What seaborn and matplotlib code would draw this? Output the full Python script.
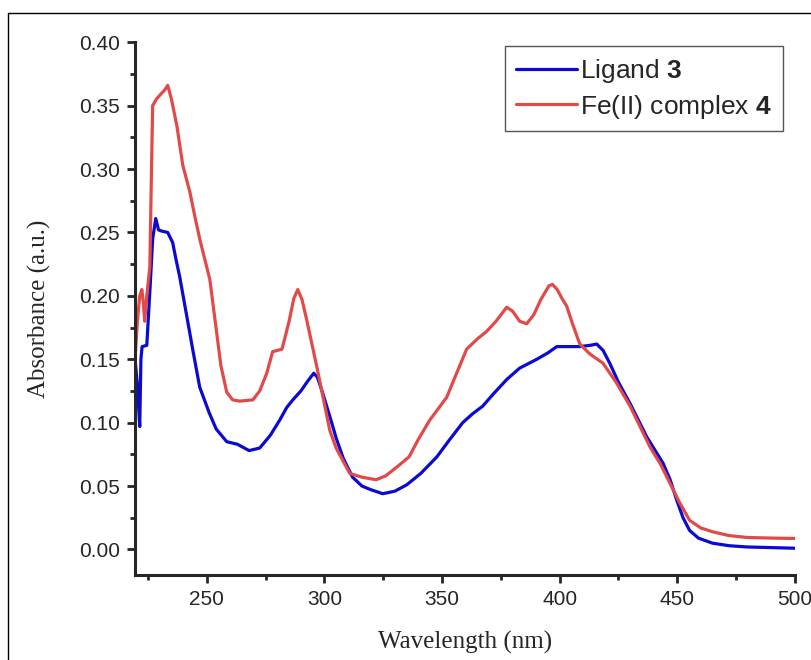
import numpy  as np
import pandas as pd

import matplotlib
matplotlib.use("Agg")
import matplotlib.pyplot as plt
import seaborn           as sns
from matplotlib.lines  import Line2D
from matplotlib.ticker import MultipleLocator

# ================================================================================
# Data
# ================================================================================
ligand_nm = [219.5, 220.5, 221.5, 222.0, 222.5, 224.5, 226.0, 227.0, 228.3, 229.5,
             231.0, 233.4, 235.5, 237.0, 238.5, 241.5, 244.0, 247.0, 251.0, 254.0,
             258.5, 263.0, 268.0, 272.5, 277.0, 281.0, 284.0, 286.6, 290.0, 293.0,
             295.5, 297.0, 299.0, 302.3, 305.0, 308.0, 312.0, 316.0, 320.0, 324.8,
             330.0, 335.0, 341.0, 347.8, 353.0, 358.8, 363.0, 367.3, 372.0, 377.5,
             383.0, 390.3, 395.0, 398.8, 403.0, 408.6, 413.0, 415.8, 418.5, 421.3,
             425.0, 430.0, 437.0, 444.0, 447.0, 449.8, 452.5, 455.3, 459.0, 465.0,
             472.0, 479.6, 490.0, 500.0]
ligand_abs = [0.150, 0.130, 0.097, 0.150, 0.160, 0.161, 0.210, 0.245, 0.261, 0.252,
              0.251, 0.250, 0.242, 0.228, 0.215, 0.184, 0.158, 0.128, 0.108, 0.095,
              0.085, 0.083, 0.078, 0.080, 0.090, 0.102, 0.112, 0.118, 0.125, 0.133,
              0.139, 0.136, 0.125, 0.105, 0.088, 0.072, 0.057, 0.050, 0.047, 0.044,
              0.046, 0.051, 0.060, 0.073, 0.086, 0.100, 0.107, 0.113, 0.123, 0.134,
              0.143, 0.150, 0.155, 0.160, 0.160, 0.160, 0.161, 0.162, 0.157, 0.147,
              0.132, 0.115, 0.089, 0.068, 0.055, 0.039, 0.025, 0.015, 0.009, 0.005,
              0.003, 0.002, 0.0015, 0.001]

complex_nm = [219.5, 220.5, 221.5, 222.4, 223.0, 223.6, 224.5, 225.8, 226.5, 227.0,
              228.5, 230.9, 232.0, 233.4, 235.0, 237.3, 239.8, 242.8, 245.0, 247.0,
              249.0, 251.3, 254.0, 256.0, 258.5, 261.0, 264.0, 269.6, 272.5, 275.5,
              278.0, 280.0, 282.0, 285.0, 287.0, 288.7, 290.5, 292.5, 296.8, 302.3,
              305.0, 310.8, 316.0, 322.0, 326.0, 330.8, 336.0, 340.0, 344.8, 352.0,
              356.0, 360.5, 365.0, 369.0, 373.0, 377.5, 380.0, 383.0, 386.0, 389.0,
              392.0, 395.5, 397.0, 399.0, 401.0, 403.0, 405.5, 408.6, 413.0, 418.4,
              424.0, 430.0, 438.4, 443.0, 447.0, 451.0, 455.3, 460.0, 465.0, 472.0,
              479.6, 490.0, 500.0]
complex_abs = [0.150, 0.180, 0.200, 0.205, 0.195, 0.180, 0.200, 0.223, 0.300, 0.350,
               0.355, 0.360, 0.362, 0.366, 0.355, 0.334, 0.303, 0.282, 0.262, 0.245,
               0.230, 0.213, 0.174, 0.145, 0.124, 0.118, 0.117, 0.118, 0.125, 0.139,
               0.156, 0.157, 0.158, 0.180, 0.198, 0.205, 0.197, 0.181, 0.144, 0.094,
               0.080, 0.060, 0.057, 0.055, 0.058, 0.065, 0.073, 0.087, 0.102, 0.120,
               0.138, 0.158, 0.166, 0.172, 0.180, 0.191, 0.188, 0.180, 0.178, 0.185,
               0.197, 0.208, 0.209, 0.205, 0.198, 0.192, 0.178, 0.162, 0.154, 0.147,
               0.132, 0.113, 0.081, 0.067, 0.052, 0.037, 0.023, 0.017, 0.014, 0.011,
               0.0095, 0.009, 0.0087]

labels = [r"Ligand $\mathbf{3}$", r"Fe(II) complex $\mathbf{4}$"]
colors = ["#0a0ad2", "#e24a4a"]

# --------------------------------------------------------------------------------
# Long-form table for seaborn
# --------------------------------------------------------------------------------
df = pd.concat([
    pd.DataFrame({"nm": ligand_nm,  "abs": ligand_abs,  "sample": labels[0]}),
    pd.DataFrame({"nm": complex_nm, "abs": complex_abs, "sample": labels[1]}),
], ignore_index=True)

# ================================================================================
# Plot
# ================================================================================
sns.set_style("ticks")
plt.rcParams["font.family"]      = ["Liberation Sans", "DejaVu Sans"]
plt.rcParams["mathtext.fontset"] = "custom"
plt.rcParams["mathtext.rm"]      = "Liberation Sans"
plt.rcParams["mathtext.bf"]      = "Liberation Sans:bold"
serif = "Liberation Serif"

fig = plt.figure(figsize=(8.11, 6.60), dpi=100)
ax  = fig.add_axes([0.1665, 0.129, 0.8135, 0.807])

sns.lineplot(
    data=df, x="nm", y="abs", hue="sample", palette=colors,
    estimator=None, sort=False, linewidth=2.3, ax=ax,
)

ax.set_xlim(219.5, 500)
ax.set_ylim(-0.02, 0.40)
ax.xaxis.set_major_locator(MultipleLocator(50))
ax.xaxis.set_minor_locator(MultipleLocator(25))
ax.yaxis.set_minor_locator(MultipleLocator(0.025))
ax.set_yticks(np.arange(0, 0.401, 0.05))
ax.set_yticklabels([f"{v:.2f}" for v in np.arange(0, 0.401, 0.05)])

sns.despine(ax=ax)
for s in ["left", "bottom"]:
    ax.spines[s].set_linewidth(2.2)
ax.tick_params(which="major", length=6, width=2.0, labelsize=15, direction="out", pad=5)
ax.tick_params(which="minor", length=3.5, width=2.0, direction="out")

ax.set_xlabel("Wavelength (nm)", fontfamily=serif, fontsize=18)
ax.set_ylabel("Absorbance (a.u.)", fontfamily=serif, fontsize=18)
ax.yaxis.set_label_coords(-0.128, 0.5)
ax.xaxis.set_label_coords(0.5, -0.105)

leg = ax.legend(
    loc="upper right", bbox_to_anchor=(0.982, 0.9925), fontsize=19,
    frameon=True, fancybox=False, edgecolor="#555555", framealpha=1,
    handlelength=2.3, handletextpad=0.15, borderpad=0.4, labelspacing=0.3,
    borderaxespad=0,
)
leg.get_frame().set_linewidth(1.0)
for line in leg.get_lines():
    line.set_linewidth(2.3)

# page border that runs off the crop
fig.add_artist(Line2D([8/811, 8/811], [0, 1 - 13/660], color="black", lw=1.0))
fig.add_artist(Line2D([8/811, 1], [1 - 13/660, 1 - 13/660], color="black", lw=1.0))

fig.savefig("out.png", dpi=100)
